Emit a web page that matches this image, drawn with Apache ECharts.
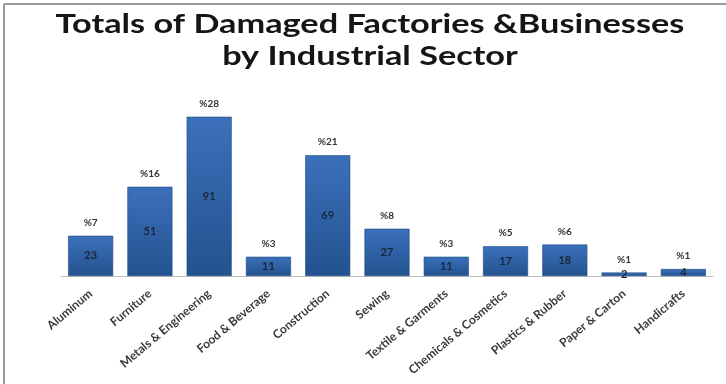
<!DOCTYPE html>
<html>
<head>
<meta charset="utf-8">
<script src="https://cdn.jsdelivr.net/npm/echarts@6/dist/echarts.min.js"></script>
<style>
  html, body { margin: 0; padding: 0; background: #ffffff; }
  #chart { width: 726px; height: 384px; }
</style>
</head>
<body>
<div id="chart"></div>
<script>
// Damaged factories & businesses per industrial sector
const titleLines = ['Totals of Damaged Factories &Businesses', 'by Industrial Sector'];
const sectors = [
  'Aluminum', 'Furniture', 'Metals & Engineering', 'Food & Beverage',
  'Construction', 'Sewing', 'Textile & Garments', 'Chemicals & Cosmetics',
  'Plastics & Rubber', 'Paper & Carton', 'Handicrafts'
];
const counts = [23, 51, 91, 11, 69, 27, 11, 17, 18, 2, 4];
const shares = [7, 16, 28, 3, 21, 8, 3, 5, 6, 1, 1];

const chart = echarts.init(document.getElementById('chart'));

const barFill = new echarts.graphic.LinearGradient(0, 0, 0, 1, [
  { offset: 0, color: '#3b70bb' },
  { offset: 1, color: '#23528f' }
]);

const titleFont = { fontFamily: 'Lato', fontWeight: 'bold', fontSize: 27, fill: '#151515', align: 'center', verticalAlign: 'top' };

chart.setOption({
  animation: false,
  backgroundColor: '#ffffff',
  graphic: [
    // frame along the top and left edges
    { type: 'line', shape: { x1: 4, y1: 4, x2: 726, y2: 4 }, style: { stroke: '#9a9a9a', lineWidth: 2 } },
    { type: 'line', shape: { x1: 4, y1: 4, x2: 4, y2: 384 }, style: { stroke: '#9a9a9a', lineWidth: 2 } },
    // two-line title, widened horizontally
    {
      type: 'group',
      x: 370,
      y: 0,
      scaleX: 1.27,
      children: [
        { type: 'text', x: 0, y: 11, style: Object.assign({ text: titleLines[0] }, titleFont) },
        { type: 'text', x: 0, y: 43, style: Object.assign({ text: titleLines[1] }, titleFont) }
      ]
    }
  ],
  grid: { left: 61, right: 13, top: 101, bottom: 108 },
  xAxis: {
    type: 'category',
    data: sectors,
    axisLine: { show: true, lineStyle: { color: '#bdbdbd', width: 1 } },
    axisTick: { show: false },
    axisLabel: {
      interval: 0,
      rotate: 40,
      margin: 16,
      fontFamily: 'Lato',
      fontWeight: 'bold',
      fontSize: 12,
      color: '#3a3a3a'
    }
  },
  yAxis: {
    type: 'value',
    min: 0,
    max: 100,
    show: false,
    splitLine: { show: false }
  },
  series: [
    {
      type: 'bar',
      data: counts,
      barCategoryGap: '24%',
      itemStyle: { color: barFill, borderColor: '#1e4a82', borderWidth: 0.6 },
      label: {
        show: true,
        position: 'inside',
        fontFamily: 'Lato',
        fontWeight: 'bold',
        fontSize: 11,
        color: '#1b2638'
      }
    },
    {
      // same heights, invisible, only carries the percentage labels above each bar
      type: 'bar',
      data: counts,
      barGap: '-100%',
      barCategoryGap: '24%',
      silent: true,
      itemStyle: { color: 'rgba(0,0,0,0)' },
      label: {
        show: true,
        position: 'top',
        distance: 8,
        fontFamily: 'Lato',
        fontWeight: 'bold',
        fontSize: 10,
        color: '#333333',
        formatter: p => '%' + shares[p.dataIndex]
      }
    }
  ]
});
</script>
</body>
</html>
